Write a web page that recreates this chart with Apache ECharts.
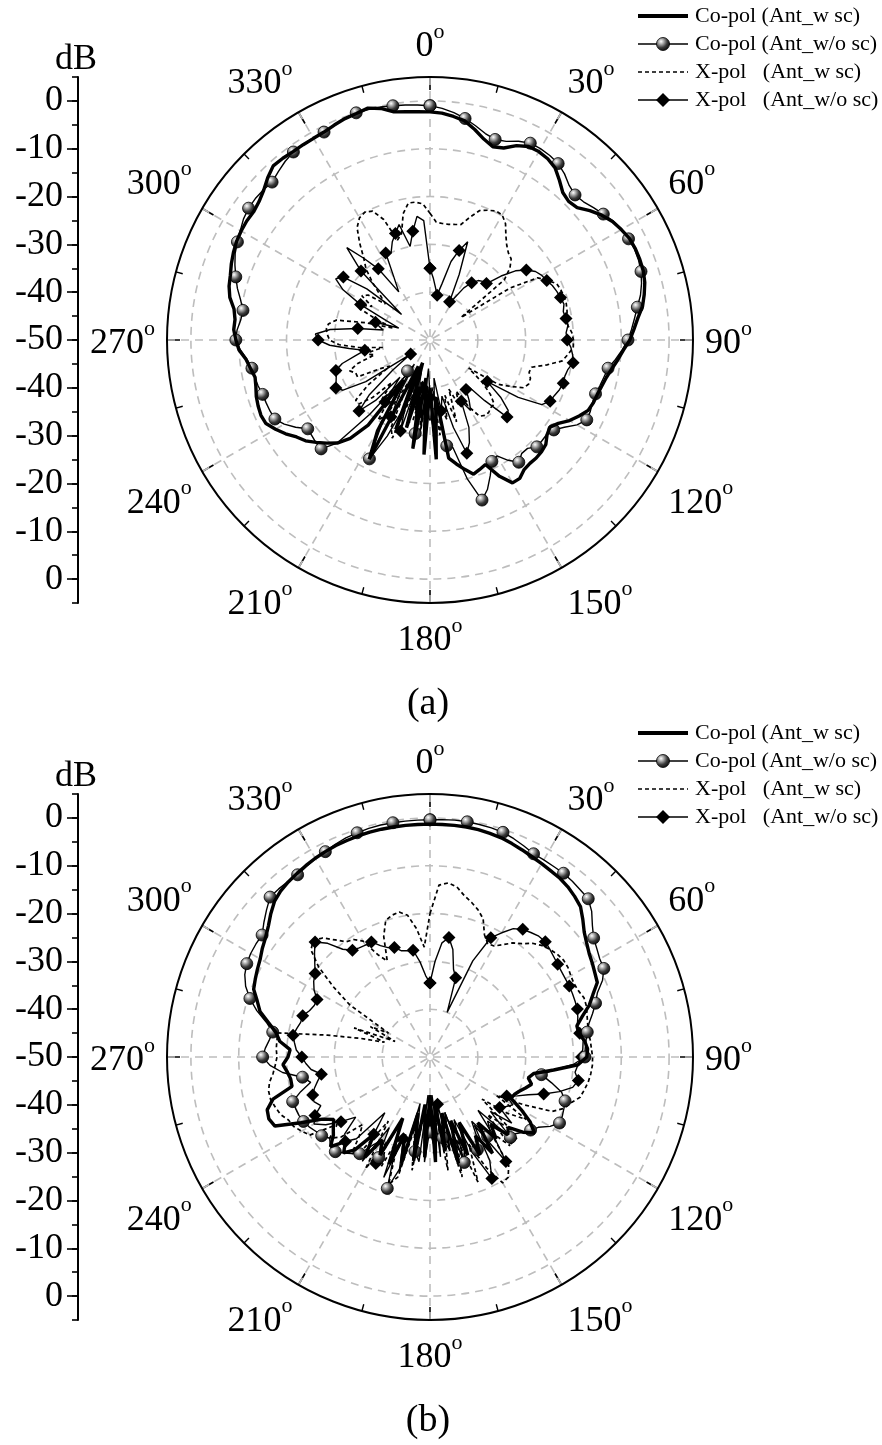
<!DOCTYPE html>
<html>
<head>
<meta charset="utf-8">
<script src="https://cdn.jsdelivr.net/npm/echarts@6/dist/echarts.min.js"></script>
<style>
  html, body { margin: 0; padding: 0; background: #fff; }
  #chart { width: 882px; height: 1445px; }
</style>
</head>
<body>
<div id="chart"></div>
<script>
// Radiation patterns (dB) sampled every 3 degrees, 0..357, clockwise from 0 at top.
const STEP_DEG = 3;
const SERIES_NAMES = ['Co-pol (Ant_w sc)', 'Co-pol (Ant_w/o sc)', 'X-pol   (Ant_w sc)', 'X-pol   (Ant_w/o sc)'];
const PANEL_LABELS = ['(a)', '(b)'];
const DB_TICKS = [0, -10, -20, -30, -40, -50, -40, -30, -20, -10, 0];

// ---- panel (a) ----
const coWithA = [
  -2.3, -2.5, -3.0, -3.6, -5.0, -6.5, -7.5, -7.0, -5.5, -4.6,
  -4.5, -4.8, -5.5, -7.0, -8.5, -9.0, -8.6, -7.0, -5.6, -4.5,
  -3.8, -3.2, -3.0, -3.0, -3.1, -3.5, -4.2, -5.0, -6.3, -7.3,
  -8.2, -9.5, -10.5, -11.5, -12.3, -12.8, -13.2, -13.4, -13.8, -15.0,
  -16.3, -18.0, -19.0, -18.5, -17.4, -17.0, -16.8, -16.8, -16.5, -15.5,
  -15.5, -18.0, -21.5, -21.0, -20.5, -22.0, -23.5, -25.0, -38.0, -25.0,
  -40.0, -26.0, -42.0, -27.0, -40.0, -31.0, -45.0, -30.0, -44.0, -22.0,
  -28.0, -40.0, -28.0, -23.5, -21.0, -19.5, -18.0, -16.5, -15.5, -14.0,
  -12.7, -11.5, -11.3, -11.5, -11.8, -12.3, -12.6, -12.0, -11.3, -10.0,
  -9.4, -8.9, -9.0, -8.5, -7.2, -6.5, -6.1, -5.5, -5.0, -4.6,
  -4.4, -4.3, -4.4, -4.0, -3.2, -2.0, -1.0, -1.1, -1.3, -1.3,
  -1.3, -1.2, -0.8, -0.4, -0.2, 0.2, -0.5, -1.7, -2.0, -2.2
];
const coWithoutA = [
  -1.0, -1.5, -2.2, -3.1, -4.2, -5.3, -5.9, -5.5, -4.5, -3.8,
  -3.8, -4.0, -4.4, -5.3, -6.5, -7.1, -6.8, -6.0, -5.2, -4.3,
  -3.7, -3.4, -3.2, -3.3, -3.6, -4.2, -5.0, -6.1, -7.0, -7.8,
  -8.6, -9.8, -11.0, -12.3, -12.8, -13.2, -13.6, -13.6, -13.3, -13.2,
  -14.5, -16.5, -18.0, -18.6, -18.5, -18.4, -19.5, -19.5, -18.4, -20.0,
  -22.0, -21.5, -19.0, -16.5, -14.8, -20.0, -27.0, -27.6, -38.0, -30.0,
  -34.7, -40.0, -31.0, -30.2, -38.0, -33.0, -40.0, -35.0, -28.0, -22.1,
  -30.0, -42.0, -42.0, -30.0, -21.0, -17.8, -17.9, -18.2, -18.4, -16.5,
  -14.8, -13.6, -13.4, -13.3, -13.2, -12.8, -12.5, -12.3, -11.5, -10.3,
  -9.4, -9.6, -10.2, -10.4, -9.5, -8.3, -7.3, -6.3, -5.4, -4.8,
  -4.2, -3.5, -3.1, -3.0, -3.1, -3.3, -2.6, -1.9, -1.4, -1.3,
  -1.2, -1.2, -0.8, -0.3, -0.05, -0.1, -0.2, -0.4, -0.6, -0.8
];
const xWithA = [
  -23.5, -25.3, -25.5, -25.5, -25.3, -25.0, -23.0, -21.0, -20.3, -19.7,
  -19.8, -21.0, -23.0, -24.5, -25.5, -26.0, -27.5, -30.0, -42.0, -30.0,
  -24.0, -22.5, -21.0, -20.7, -20.5, -20.5, -20.7, -21.0, -21.0, -20.3,
  -20.0, -20.0, -21.0, -22.0, -25.0, -28.0, -28.2, -27.5, -27.4, -28.0,
  -30.6, -33.0, -40.0, -36.0, -33.0, -31.0, -31.0, -30.5, -30.5, -31.0,
  -34.0, -38.0, -35.0, -39.0, -32.0, -38.0, -33.0, -36.0, -30.0, -40.0,
  -33.0, -40.0, -30.0, -38.0, -33.0, -32.0, -38.0, -28.0, -30.0, -40.0,
  -32.0, -30.0, -38.0, -34.0, -38.0, -33.0, -30.0, -30.0, -34.0, -40.0,
  -38.0, -33.0, -33.0, -32.0, -34.0, -38.0, -36.0, -40.0, -35.0, -31.0,
  -29.0, -28.5, -28.2, -28.5, -30.0, -36.0, -42.0, -38.0, -34.0, -34.0,
  -36.0, -33.0, -34.0, -38.0, -36.0, -33.0, -30.0, -28.0, -25.0, -22.0,
  -20.5, -20.0, -20.5, -23.0, -28.0, -27.0, -23.0, -21.0, -21.0, -21.5
];
const xWithoutA = [
  -35.0, -37.0, -39.0, -40.5, -38.0, -33.0, -30.3, -28.0, -35.0, -41.0,
  -40.0, -37.0, -35.2, -34.0, -33.5, -33.3, -30.0, -27.0, -25.1, -23.7,
  -23.0, -22.6, -22.0, -21.6, -21.3, -21.0, -21.5, -21.2, -21.0, -21.5,
  -21.3, -20.5, -20.0, -19.7, -20.5, -20.8, -20.7, -21.0, -21.5, -21.8,
  -23.0, -28.0, -35.2, -31.0, -28.0, -27.2, -33.0, -38.0, -37.2, -35.0,
  -33.0, -35.6, -30.0, -27.0, -25.1, -31.0, -38.0, -35.0, -42.0, -31.0,
  -38.0, -44.0, -32.0, -40.0, -35.0, -43.0, -30.0, -36.0, -42.0, -32.0,
  -38.0, -44.0, -34.0, -40.0, -33.0, -29.0, -33.0, -40.0, -45.0, -34.0,
  -29.0, -27.9, -28.5, -29.0, -29.3, -31.0, -34.0, -36.2, -33.0, -29.0,
  -26.6, -26.0, -29.0, -34.7, -40.0, -39.0, -38.0, -43.0, -40.0, -33.7,
  -29.0, -26.5, -27.6, -33.0, -42.0, -29.6, -24.0, -28.0, -31.6, -38.0,
  -35.0, -29.6, -30.0, -28.0, -26.6, -25.0, -30.0, -27.0, -24.0, -25.0
];

// ---- panel (b) ----
const coWithB = [
  -1.3, -1.3, -1.3, -1.3, -1.4, -1.6, -1.8, -2.2, -2.6, -3.0,
  -3.3, -3.6, -3.8, -4.2, -4.8, -5.5, -7.0, -8.5, -9.5, -10.3,
  -10.8, -11.3, -11.7, -13.5, -15.0, -17.0, -18.6, -18.5, -17.5, -17.0,
  -17.2, -19.0, -24.0, -28.0, -29.0, -28.0, -29.0, -30.0, -30.7, -31.0,
  -28.0, -25.0, -23.0, -25.0, -28.0, -27.0, -31.0, -28.0, -33.0, -26.0,
  -31.0, -27.0, -35.0, -28.0, -36.0, -27.0, -38.0, -30.0, -40.0, -28.0,
  -42.0, -29.0, -40.0, -28.0, -38.0, -27.0, -33.0, -26.0, -36.0, -27.0,
  -30.0, -25.0, -30.0, -25.0, -23.0, -25.0, -22.0, -24.0, -25.0, -26.0,
  -24.0, -19.7, -14.5, -13.9, -14.2, -16.0, -20.5, -20.5, -20.0, -19.2,
  -20.3, -20.7, -18.4, -17.4, -15.5, -13.2, -12.0, -10.5, -10.0, -9.5,
  -9.0, -8.2, -7.5, -6.5, -5.2, -4.0, -3.3, -2.9, -2.6, -2.3,
  -2.0, -1.8, -1.6, -1.5, -1.4, -1.3, -1.3, -1.3, -1.3, -1.3
];
const coWithoutB = [
  -0.4, -0.3, -0.2, -0.2, -0.3, -0.4, -0.6, -1.1, -1.7, -2.3,
  -2.4, -2.5, -2.5, -2.7, -3.0, -3.2, -4.5, -6.3, -7.7, -8.4,
  -9.0, -9.2, -10.5, -12.5, -13.6, -14.8, -16.0, -16.7, -17.2, -17.5,
  -17.6, -20.0, -24.0, -26.4, -24.0, -21.5, -20.3, -20.0, -19.7, -19.6,
  -21.0, -23.0, -24.0, -25.0, -26.0, -26.2, -32.0, -30.0, -29.5, -34.0,
  -30.0, -28.2, -35.0, -30.0, -26.8, -38.0, -30.0, -32.9, -40.0, -31.0,
  -34.3, -42.0, -28.0, -30.0, -40.0, -26.0, -21.1, -30.0, -35.0, -26.4,
  -30.0, -28.0, -25.0, -24.0, -23.0, -22.0, -22.0, -23.0, -22.0, -21.5,
  -20.8, -20.3, -20.0, -19.9, -19.8, -22.0, -24.5, -23.0, -19.0, -16.5,
  -15.0, -15.5, -16.2, -16.7, -15.0, -12.5, -10.4, -8.7, -7.6, -7.0,
  -6.7, -6.6, -6.6, -5.3, -4.0, -2.7, -2.7, -2.8, -2.9, -2.5,
  -2.1, -1.8, -1.3, -0.9, -0.7, -0.5, -0.4, -0.4, -0.4, -0.4
];
const xWithB = [
  -20.0, -14.0, -13.4, -14.0, -15.5, -16.5, -17.6, -19.0, -22.0, -23.4,
  -23.2, -22.0, -20.5, -19.5, -18.0, -17.0, -16.3, -15.8, -15.5, -15.6,
  -16.0, -16.2, -16.0, -15.5, -15.6, -16.0, -16.3, -16.5, -16.3, -16.2,
  -16.0, -16.0, -16.2, -16.5, -17.0, -17.5, -19.0, -20.0, -22.0, -28.0,
  -34.0, -26.0, -30.0, -36.0, -27.0, -33.0, -25.0, -30.0, -22.0, -20.0,
  -19.6, -24.0, -30.0, -22.0, -32.0, -24.0, -36.0, -26.0, -38.0, -28.0,
  -40.0, -30.0, -38.0, -26.0, -35.0, -24.0, -22.0, -32.0, -25.0, -30.0,
  -23.0, -34.0, -26.0, -24.0, -28.0, -30.0, -25.0, -23.0, -26.0, -20.0,
  -19.0, -18.0, -17.6, -16.5, -16.0, -15.5, -15.5, -16.0, -17.0, -17.6,
  -18.0, -17.8, -17.8, -17.8, -28.0, -35.0, -40.0, -33.0, -42.0, -36.0,
  -40.0, -30.0, -25.0, -20.0, -16.5, -15.5, -16.5, -18.5, -20.2, -20.7,
  -22.0, -26.0, -28.0, -23.0, -20.0, -19.3, -19.0, -20.0, -23.0, -27.0
];
const xWithoutB = [
  -34.5, -30.0, -26.0, -24.7, -27.0, -31.0, -32.6, -40.0, -28.0, -22.0,
  -20.0, -18.0, -17.0, -16.5, -16.0, -15.9, -16.3, -16.7, -17.0, -17.2,
  -17.3, -17.3, -17.4, -17.5, -17.6, -18.0, -18.5, -18.3, -17.8, -18.0,
  -18.3, -19.0, -19.5, -18.6, -19.5, -22.0, -25.0, -28.0, -30.0, -32.0,
  -30.0, -31.0, -32.0, -28.0, -33.0, -26.0, -35.0, -29.0, -23.0, -33.0,
  -25.0, -21.5, -28.0, -36.0, -27.0, -38.0, -30.0, -40.0, -29.0, -42.0,
  -35.0, -28.0, -40.0, -30.0, -38.0, -25.0, -32.0, -23.0, -36.0, -25.0,
  -33.0, -24.0, -30.0, -35.0, -27.0, -25.0, -26.0, -30.0, -27.0, -24.0,
  -22.0, -23.0, -25.0, -24.0, -24.2, -25.0, -26.0, -27.0, -25.0, -24.0,
  -23.2, -22.0, -21.5, -21.0, -21.5, -22.0, -22.0, -23.0, -23.5, -23.5,
  -22.0, -21.0, -20.3, -19.0, -17.5, -16.0, -18.0, -21.0, -22.4, -22.8,
  -23.0, -23.0, -24.5, -25.5, -25.9, -27.0, -27.3, -27.4, -30.0, -33.0
];

const PANELS = [
  { series: [coWithA, coWithoutA, xWithA, xWithoutA] },
  { series: [coWithB, coWithoutB, xWithB, xWithoutB] }
];

// ---- layout ----
const FONT = 'Liberation Serif';
const CX = 430;
const CENTER_Y = [340, 1057];
const R_OUTER = 263;          // radius of the +5 dB rim
const PX_PER_DB = R_OUTER / 55;
const AXIS_X = 78;
const GRID_GRAY = '#bdbdbd';
const LEGEND_X = 638, LEGEND_LINE_W = 50, LEGEND_ROW = 28;

// closed polar polyline: [radius, angle]
function toPolar(vals) {
  const out = [];
  for (let i = 0; i <= vals.length; i++) out.push([vals[i % vals.length], i * STEP_DEG]);
  return out;
}

function sphereFill() {
  return new echarts.graphic.RadialGradient(0.36, 0.32, 0.75, [
    { offset: 0, color: '#ffffff' },
    { offset: 0.22, color: '#b8b8b8' },
    { offset: 0.6, color: '#3a3a3a' },
    { offset: 1, color: '#050505' }
  ]);
}

const markEvery = 3; // a marker every 9 degrees

const polar = [], angleAxis = [], radiusAxis = [], series = [];
const grid = [], xAxis = [], yAxis = [], graphic = [];

PANELS.forEach((panel, p) => {
  const cy = CENTER_Y[p];
  polar.push({ center: [CX, cy], radius: R_OUTER });
  angleAxis.push({
    polarIndex: p, type: 'value', min: 0, max: 360, interval: 30,
    startAngle: 90, clockwise: true,
    axisLine: { lineStyle: { color: '#000', width: 2 } },
    axisTick: { inside: true, length: 13, lineStyle: { color: '#000', width: 1.6 } },
    minorTick: { show: true, splitNumber: 2, length: 7, lineStyle: { color: '#000', width: 1.4 } },
    splitLine: { show: true, lineStyle: { color: GRID_GRAY, width: 1.6, type: [8, 6] } },
    axisLabel: {
      margin: 12,
      formatter: v => (v === 360 ? '' : '{n|' + v + '}{s|o}'),
      rich: {
        n: { fontFamily: FONT, fontSize: 36, color: '#000', padding: [8, 0, 0, 0] },
        s: { fontFamily: FONT, fontSize: 22, color: '#000', verticalAlign: 'top' }
      }
    }
  });
  radiusAxis.push({
    polarIndex: p, type: 'value', min: -50, max: 5, interval: 10,
    axisLine: { show: false }, axisTick: { show: false }, axisLabel: { show: false },
    splitLine: {
      show: true,
      lineStyle: {
        color: [GRID_GRAY, GRID_GRAY, GRID_GRAY, GRID_GRAY, GRID_GRAY, GRID_GRAY, 'rgba(0,0,0,0)'],
        width: 1.6, type: [8, 6]
      }
    }
  });

  const [coW, coWo, xW, xWo] = panel.series;
  const base = { type: 'line', coordinateSystem: 'polar', polarIndex: p, animation: false, silent: true };
  series.push(
    Object.assign({}, base, {
      name: SERIES_NAMES[0], data: toPolar(coW), symbol: 'none', z: 5,
      lineStyle: { color: '#000', width: 3.4 }, itemStyle: { color: '#000' }
    }),
    Object.assign({}, base, {
      name: SERIES_NAMES[1], data: toPolar(coWo), symbol: 'circle', z: 4,
      symbolSize: (v, prm) => (prm.dataIndex % markEvery === 0 ? 12 : 0),
      lineStyle: { color: '#000', width: 1.4 },
      itemStyle: { color: sphereFill(), borderColor: '#000', borderWidth: 0.8 }
    }),
    Object.assign({}, base, {
      name: SERIES_NAMES[2], data: toPolar(xW), symbol: 'none', z: 3,
      lineStyle: { color: '#000', width: 1.7, type: [4, 3] }, itemStyle: { color: '#000' }
    }),
    Object.assign({}, base, {
      name: SERIES_NAMES[3], data: toPolar(xWo), symbol: 'diamond', z: 3,
      symbolSize: (v, prm) => (prm.dataIndex % markEvery === 0 ? 13 : 0),
      lineStyle: { color: '#000', width: 1.4 }, itemStyle: { color: '#000' }
    })
  );

  // Left dB ruler: full span with 5 dB ticks, and labelled 10 dB ticks
  const top = cy - R_OUTER;
  const top0 = cy - 50 * PX_PER_DB;
  grid.push({ left: AXIS_X, top: top, width: 10, height: 2 * R_OUTER, containLabel: false });
  grid.push({ left: AXIS_X, top: top0, width: 10, height: 100 * PX_PER_DB, containLabel: false });
  xAxis.push({ gridIndex: 2 * p, type: 'value', show: false });
  xAxis.push({ gridIndex: 2 * p + 1, type: 'value', show: false });
  yAxis.push({
    gridIndex: 2 * p, type: 'value', min: -5, max: 105, interval: 5,
    axisLine: { show: true, lineStyle: { color: '#000', width: 2 } },
    axisTick: { show: true, length: 6, lineStyle: { color: '#000', width: 1.6 } },
    axisLabel: { show: false }, splitLine: { show: false }
  });
  yAxis.push({
    gridIndex: 2 * p + 1, type: 'value', min: 0, max: 100, interval: 10,
    axisLine: { show: false },
    axisTick: { show: true, length: 11, lineStyle: { color: '#000', width: 1.6 } },
    axisLabel: {
      margin: 15, fontFamily: FONT, fontSize: 36, color: '#000',
      formatter: v => String(DB_TICKS[Math.round(v / 10)])
    },
    splitLine: { show: false }
  });

  // Legend block (top right of each panel)
  const ly0 = cy - 324;
  const x1 = LEGEND_X, x2 = LEGEND_X + LEGEND_LINE_W, xm = (x1 + x2) / 2;
  SERIES_NAMES.forEach((name, k) => {
    const y = ly0 + k * LEGEND_ROW;
    const lineStyle = [
      { stroke: '#000', lineWidth: 4 },
      { stroke: '#000', lineWidth: 1.5 },
      { stroke: '#000', lineWidth: 1.7, lineDash: [4, 3] },
      { stroke: '#000', lineWidth: 1.5 }
    ][k];
    graphic.push({ type: 'line', shape: { x1: x1, y1: y, x2: x2, y2: y }, style: lineStyle, z: 10 });
    if (k === 1) {
      graphic.push({ type: 'circle', shape: { cx: xm, cy: y, r: 6.5 },
        style: { fill: sphereFill(), stroke: '#000', lineWidth: 0.8 }, z: 11 });
    } else if (k === 3) {
      graphic.push({ type: 'polygon', shape: { points: [[xm, y - 7], [xm + 7, y], [xm, y + 7], [xm - 7, y]] },
        style: { fill: '#000' }, z: 11 });
    }
    graphic.push({ type: 'text', x: x2 + 7, y: y,
      style: { text: name, font: '22px "Liberation Serif"', fill: '#000', align: 'left', verticalAlign: 'middle' }, z: 11 });
  });

  graphic.push({
    type: 'text', x: 76, y: cy - 280,
    style: { text: 'dB', font: '36px "Liberation Serif"', fill: '#000', align: 'center', verticalAlign: 'middle' }
  });
  graphic.push({
    type: 'text', x: 428, y: cy + 364,
    style: { text: PANEL_LABELS[p], font: '38px "Liberation Serif"', fill: '#000', align: 'center', verticalAlign: 'middle' }
  });
});

const chart = echarts.init(document.getElementById('chart'), null, { renderer: 'canvas' });
chart.setOption({
  backgroundColor: '#fff',
  animation: false,
  polar, angleAxis, radiusAxis, grid, xAxis, yAxis, graphic, series
});
</script>
</body>
</html>
